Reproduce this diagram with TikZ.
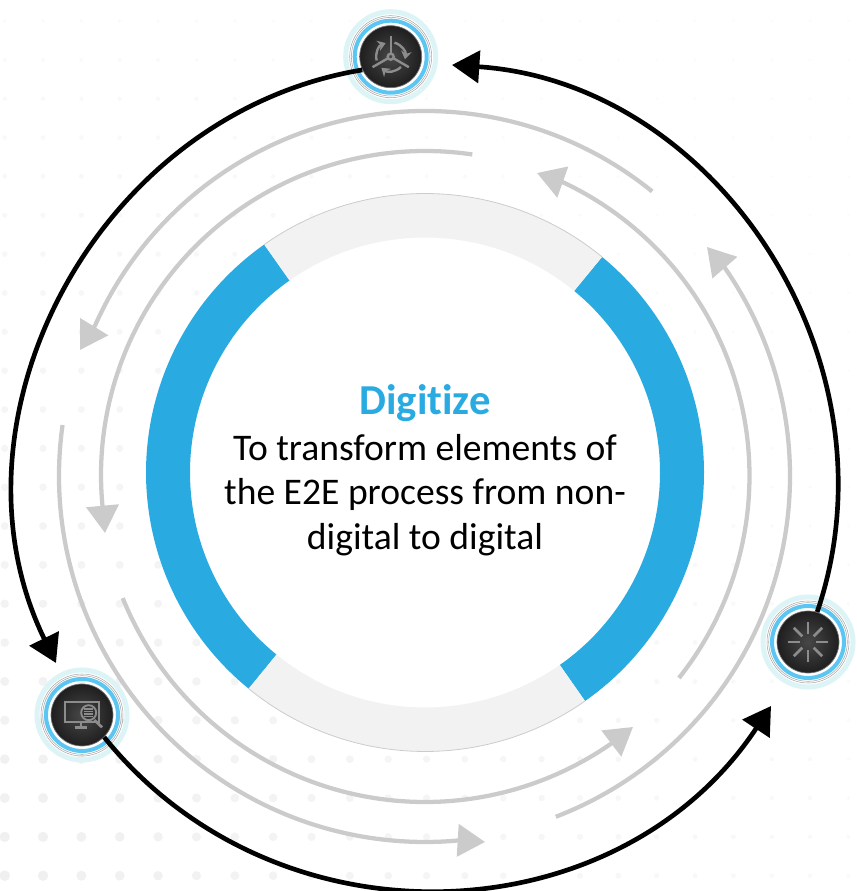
\documentclass[tikz,border=0pt]{standalone}
\usepackage{fontspec}
\setmainfont[Ligatures=NoCommon]{Carlito}
\usetikzlibrary{arrows.meta,
	calc,
	positioning}
\definecolor{ringblue}{HTML}{29ABE2}
\definecolor{ringgrey}{HTML}{F2F2F2}
\definecolor{arcgrey}{HTML}{CBCBCB}
\definecolor{halo}{HTML}{DDF4F7}
\definecolor{haloblue}{HTML}{5CC6F2}
\definecolor{icongrey}{HTML}{8C8C8C}

\begin{document}
\begin{tikzpicture}[x=0.75pt,y=0.75pt]
    \tikzstyle{hub}=[circle,minimum size=46.5pt,inner sep=0pt,inner color=black!72,outer color=black!88,draw=black!55,line width=0.5pt]
    \tikzstyle{greyarrow}=[draw=arcgrey,line width=3.2pt,-{Triangle[length=20.5pt,width=24pt]},arcgrey]
    \tikzstyle{blackarrow}=[black,line width=3.5pt,-{Triangle[length=20.5pt,width=24pt]}]
    \tikzstyle{iconline}=[icongrey,line width=1.8pt]
    \useasboundingbox (0,0) rectangle (856,891);
    % dots behind everything
    \foreach \i in {0,...,22}
      \foreach \j in {0,...,22} {
        \pgfmathsetmacro{\dotx}{4.7+38.35*\i}
        \pgfmathsetmacro{\doty}{870-38.85*\j}
        \pgfmathsetmacro{\dotd}{veclen(\dotx,\doty)/900}
        \pgfmathsetmacro{\dotr}{max(1.5,5.4-3.6*\dotd)}
        \pgfmathsetmacro{\dotk}{max(1.5,6-4.2*\dotd)}
        \fill[black!\dotk] (\dotx,\doty) circle (\dotr);
      }
    % middle ring
    \coordinate (ring) at (425,418.5);
    \fill[white] (ring) circle (279);
    \foreach \a/\b/\c in {125.2/230.8/ringblue,305/410.6/ringblue,50.6/125.2/ringgrey,230.8/305/ringgrey}
      \fill[\c] ($(ring)+(\a:279)$) arc (\a:\b:279) -- ($(ring)+(\b:235)$) arc (\b:\a:235) -- cycle;
    \draw[black!20,line width=0.6pt] ($(ring)+(50.6:279)$) arc (50.6:125.2:279);
    \draw[black!20,line width=0.6pt] ($(ring)+(230.8:279)$) arc (230.8:305:279);
    % grey arcs
    \coordinate (tip_a) at (80,541);
    \coordinate (tip_b) at (707,644);
    \coordinate (tip_c) at (537,718);
    \coordinate (tip_d) at (105,358);
    \coordinate (tip_e) at (485,49);
    \coordinate (tip_f) at (633,164);
    \draw[greyarrow] (425,419) ++(51:361) arc (51:156:361) -- (tip_a);
    \draw[greyarrow] (425,415) ++(-69:365) arc (-69:35:365) -- (tip_b);
    \draw[greyarrow] (425,415) ++(-38.5:324.5) arc (-38.5:65:324.5) -- (tip_c);
    \draw[greyarrow] (425,416) ++(81.6:324) arc (81.6:185.7:324) -- (tip_d);
    \draw[greyarrow] (425,415) ++(172:366) arc (172:275.3:366) -- (tip_e);
    \draw[greyarrow] (425,415) ++(202:326) arc (202:305:326) -- (tip_f);
    % hubs
    \node[hub] (hub_top) at (390.7,834.3) {};
    \node[hub] (hub_right) at (808,249) {};
    \node[hub] (hub_left) at (82,176) {};
    \foreach \n in {hub_top,hub_right,hub_left} {
      \draw[halo,line width=3.8pt] (\n) circle (45);
      \draw[black!35,line width=0.4pt] (\n) circle (41);
      \draw[black!35,line width=0.4pt] (\n) circle (39.3);
      \draw[haloblue,line width=3pt] (\n) circle (36);
    }
    % black arcs
    \coordinate (tip_top) at (452,826);
    \coordinate (tip_left) at (56,228);
    \coordinate (tip_right) at (771,185);
    \draw[blackarrow] (hub_right.73) to[bend right=52.5,looseness=1.03] (tip_top);
    \draw[blackarrow] (hub_top.205) to[bend right=53.3,looseness=1.035] (tip_left);
    \draw[blackarrow] (hub_left.315) to[bend right=53.8,looseness=1.06] (tip_right);
    % icon of the top hub
    \begin{scope}[shift={(hub_top.center)}]
      \draw[iconline] (0,0) circle (3);
      \foreach \a in {90,210,330} {
        \draw[iconline] (\a:3) -- (\a:21);
        \draw[iconline,-{Stealth[length=6pt,width=8pt]}] (\a-15:14.5) arc (\a-15:\a-100:14.5);
      }
    \end{scope}
    % icon of the right hub
    \begin{scope}[shift={(hub_right.center)}]
      \foreach \a in {0,45,...,315}
        \draw[iconline,line width=2pt] (\a:8) -- (\a:20);
    \end{scope}
    % icon of the left hub
    \begin{scope}[shift={(hub_left.center)}]
      \draw[iconline,line width=1.4pt] (-17,-6.7) rectangle (17,13.3);
      \draw[iconline] (-1,-6.7) -- (-1,-12.5);
      \draw[iconline] (-7.5,-12.5) -- (5,-12.5);
      \draw[iconline,line width=1.4pt,fill=black!80] (6.7,2.3) circle (7.5);
      \foreach \h in {-1.5,1,3.5,6}
        \draw[icongrey,line width=0.8pt] (2,\h) -- (11.4,\h);
      \draw[iconline,line width=2pt] (12.3,-5) -- (20,-12.3);
    \end{scope}
    % text in the middle
    \node[align=center,font=\fontsize{28.2}{33.2}\selectfont,inner sep=0pt] (body) at (425,396) {To transform elements of\\the E2E process from non-\\digital to digital};
    \node[font=\fontsize{32}{33}\selectfont\bfseries,text=ringblue,inner sep=0pt,above=9pt of body] (title) {Digitize};
\end{tikzpicture}
\end{document}
